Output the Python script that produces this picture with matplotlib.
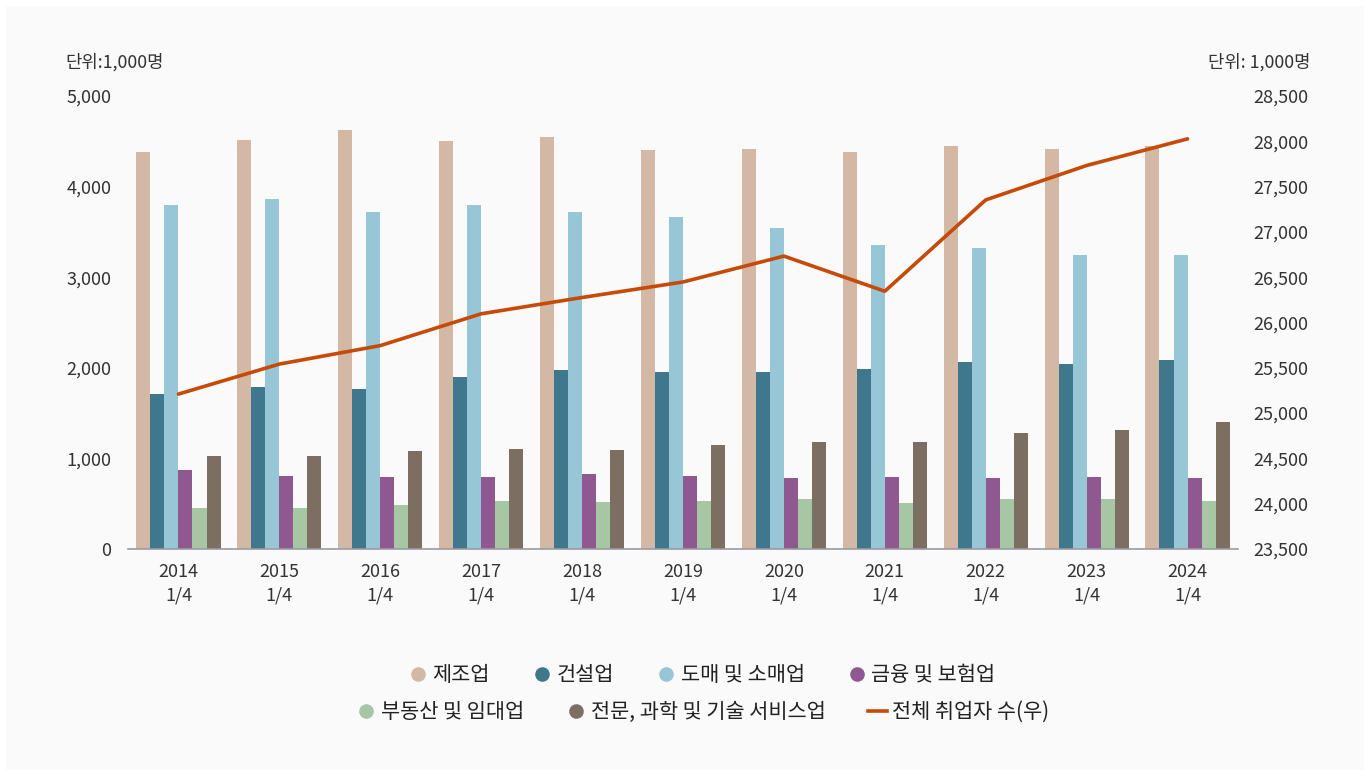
import matplotlib
matplotlib.use("Agg")
import matplotlib.pyplot as plt
from matplotlib.patches import Rectangle
from matplotlib.lines import Line2D
import numpy as np

plt.rcParams['font.family'] = ['Noto Sans CJK KR', 'DejaVu Sans']

# Data (unit: 1,000 persons), first quarter of each year
years = ["2014", "2015", "2016", "2017", "2018", "2019",
         "2020", "2021", "2022", "2023", "2024"]
tick_labels = [f"{y}\n1/4" for y in years]

manufacturing = [4384, 4518, 4620, 4502, 4551, 4408, 4416, 4384, 4449, 4416, 4449]
construction = [1710, 1784, 1767, 1902, 1971, 1959, 1959, 1988, 2065, 2041, 2090]
wholesale_retail = [3796, 3865, 3722, 3796, 3722, 3661, 3547, 3355, 3318, 3249, 3249]
finance_insurance = [876, 804, 796, 796, 833, 804, 780, 796, 780, 796, 780]
real_estate = [455, 457, 486, 531, 518, 531, 551, 506, 551, 551, 531]
professional = [1029, 1029, 1082, 1102, 1094, 1147, 1176, 1184, 1282, 1318, 1400]
total_employed = [25210, 25541, 25745, 26096, 26276, 26447, 26733, 26345, 27353, 27733, 28027]

series_names = ["제조업", "건설업", "도매 및 소매업", "금융 및 보험업",
                "부동산 및 임대업", "전문, 과학 및 기술 서비스업"]
line_name = "전체 취업자 수(우)"
series_values = [manufacturing, construction, wholesale_retail,
                 finance_insurance, real_estate, professional]
colors = ["#d3b8a5", "#3f788c", "#97c6d6", "#8f5891", "#a7c6a4", "#7d6e62"]
line_color = "#c64a08"
text_color = "#333333"

W, H = 1370, 776
fig = plt.figure(figsize=(W / 100, H / 100), dpi=100)
fig.patch.set_facecolor("white")
fig.patches.append(Rectangle((6 / W, 6 / H), 1 - 12 / W, 1 - 12 / H,
                             transform=fig.transFigure, facecolor="#fafafa",
                             edgecolor="none", zorder=-10))

ax = fig.add_axes([128 / W, 227 / H, 1110 / W, 453 / H])
ax.set_facecolor("none")
x = np.arange(len(years))
bw = 0.139
offsets = (np.arange(6) - 2.5) * bw
for vals, off, c, name in zip(series_values, offsets, colors, series_names):
    ax.bar(x + off, vals, width=bw, color=c, label=name, zorder=2)

ax.set_xlim(-0.5, len(years) - 0.5)
ax.set_ylim(0, 5000)
ax.set_yticks(np.arange(0, 5001, 1000))
ax.set_yticklabels([f"{v:,}" for v in range(0, 5001, 1000)])
ax.set_xticks(x)
ax.set_xticklabels(tick_labels, linespacing=1.4)
for s in ["top", "left", "right"]:
    ax.spines[s].set_visible(False)
ax.spines["bottom"].set_color("#9a9aa2")
ax.spines["bottom"].set_linewidth(1.2)
ax.tick_params(axis="y", length=0, pad=12, labelsize=13, colors=text_color)
ax.tick_params(axis="x", length=0, pad=10, labelsize=13, colors=text_color)

ax2 = ax.twinx()
ax2.plot(x, total_employed, color=line_color, linewidth=2.6,
         solid_capstyle="round", solid_joinstyle="round", zorder=3)
ax2.set_ylim(23500, 28500)
ax2.set_yticks(np.arange(23500, 28501, 500))
ax2.set_yticklabels([f"{v:,}" for v in range(23500, 28501, 500)])
for s in ["top", "left", "right", "bottom"]:
    ax2.spines[s].set_visible(False)
ax2.tick_params(axis="y", length=0, pad=11, labelsize=13, colors=text_color)

fig.text(65 / W, 1 - 62 / H, "단위:1,000명", ha="left", va="center",
         fontsize=12.8, color=text_color)
fig.text(1311 / W, 1 - 62 / H, "단위: 1,000명", ha="right", va="center",
         fontsize=12.8, color=text_color)

def dot(c):
    return Line2D([], [], linestyle="none", marker="o", markersize=10.5,
                  markerfacecolor=c, markeredgecolor="none")

row1 = [dot(c) for c in colors[:4]]
row2 = [dot(c) for c in colors[4:]] + [Line2D([], [], color=line_color, linewidth=2.6)]
common = dict(frameon=False, fontsize=15, handlelength=0.9, handletextpad=0.25,
              columnspacing=2.05, borderaxespad=0, labelcolor="#222222")
leg1 = fig.legend(row1, series_names[:4], ncol=4, loc="center",
                  bbox_to_anchor=(702 / W, 1 - 675 / H), **common)
leg2 = fig.legend(row2, series_names[4:] + [line_name], ncol=3, loc="center",
                  bbox_to_anchor=(703 / W, 1 - 712 / H), **common)

fig.savefig("out.png", dpi=100, facecolor=fig.get_facecolor())
